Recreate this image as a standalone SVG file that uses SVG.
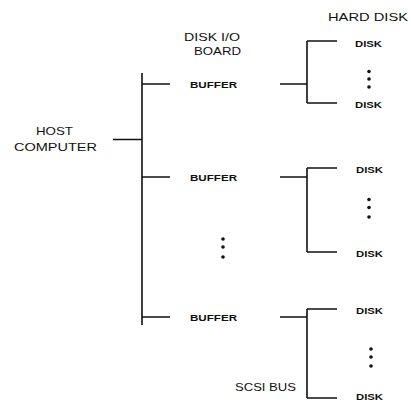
<svg xmlns="http://www.w3.org/2000/svg" width="411" height="403" viewBox="0 0 411 403">
<style>
.ln{stroke:#111;stroke-width:1.6;fill:none}
.lab{font-family:"Liberation Sans",Arial,sans-serif;font-size:11px;fill:#111}
.sm{font-family:"Liberation Sans",Arial,sans-serif;font-size:9px;font-weight:bold;fill:#111}
.dot{fill:#111}
</style>
<rect width="411" height="403" fill="#fff"/>
<g id="labels">
<text class="lab" x="328" y="20.5" textLength="80" lengthAdjust="spacingAndGlyphs">HARD DISK</text>
<text class="lab" x="184" y="40.5" textLength="56" lengthAdjust="spacingAndGlyphs">DISK I/O</text>
<text class="lab" x="194" y="54.5" textLength="47" lengthAdjust="spacingAndGlyphs">BOARD</text>
<text class="lab" x="235" y="390.5" textLength="61" lengthAdjust="spacingAndGlyphs">SCSI BUS</text>
</g>
<g id="host">
<text class="lab" x="36" y="135" textLength="37" lengthAdjust="spacingAndGlyphs">HOST</text>
<text class="lab" x="14" y="151" textLength="83" lengthAdjust="spacingAndGlyphs">COMPUTER</text>
</g>
<g id="buffer1"><text class="sm" x="190" y="87.5" textLength="47" lengthAdjust="spacingAndGlyphs">BUFFER</text></g>
<g id="buffer2"><text class="sm" x="190" y="180.5" textLength="47" lengthAdjust="spacingAndGlyphs">BUFFER</text></g>
<g id="buffer3"><text class="sm" x="190" y="320.5" textLength="47" lengthAdjust="spacingAndGlyphs">BUFFER</text></g>
<g id="disk1a"><text class="sm" x="355" y="46.5" textLength="27" lengthAdjust="spacingAndGlyphs">DISK</text></g>
<g id="disk1b"><text class="sm" x="355" y="108" textLength="27" lengthAdjust="spacingAndGlyphs">DISK</text></g>
<g id="disk2a"><text class="sm" x="356" y="172.5" textLength="27" lengthAdjust="spacingAndGlyphs">DISK</text></g>
<g id="disk2b"><text class="sm" x="356" y="256.5" textLength="27" lengthAdjust="spacingAndGlyphs">DISK</text></g>
<g id="disk3a"><text class="sm" x="356" y="313.5" textLength="27" lengthAdjust="spacingAndGlyphs">DISK</text></g>
<g id="disk3b"><text class="sm" x="356" y="400" textLength="27" lengthAdjust="spacingAndGlyphs">DISK</text></g>
<g id="ellipses">
<circle class="dot" cx="369" cy="71.5" r="1.8"/><circle class="dot" cx="369" cy="79" r="1.8"/><circle class="dot" cx="369" cy="87" r="1.8"/>
<circle class="dot" cx="369" cy="199.5" r="1.8"/><circle class="dot" cx="369" cy="207.5" r="1.8"/><circle class="dot" cx="369" cy="217" r="1.8"/>
<circle class="dot" cx="223" cy="239" r="1.8"/><circle class="dot" cx="223" cy="247" r="1.8"/><circle class="dot" cx="223" cy="257" r="1.8"/>
<circle class="dot" cx="371" cy="349" r="1.8"/><circle class="dot" cx="371" cy="357" r="1.8"/><circle class="dot" cx="371" cy="366" r="1.8"/>
</g>
<g id="connectors">
<path class="ln" d="M113 139.5H142M142 73V325M142 84H170M142 177H170M142 317H170"/>
<path class="ln" d="M280 84H307M307 41V103M307 41H337M307 103H337"/>
<path class="ln" d="M280 177H307M307 168V252M307 168H337M307 252H337"/>
<path class="ln" d="M280 317H307M307 309V398M307 309H337M307 398H337"/>
</g>
</svg>
